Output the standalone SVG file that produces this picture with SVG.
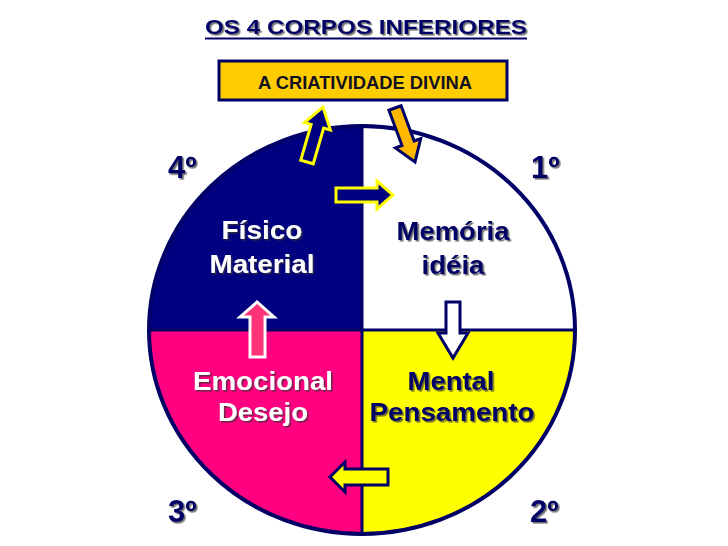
<svg xmlns="http://www.w3.org/2000/svg" width="728" height="546" viewBox="0 0 728 546">
<defs>
<style>
text{font-family:"Liberation Sans",Arial,sans-serif;font-weight:bold;}
.lbl{font-size:25px;text-anchor:middle;filter:url(#sh);}
.num{font-size:31px;fill:#000066;filter:url(#sh);}
.w{fill:#ffffff;}
.n{fill:#000066;}
.div{stroke:#000066;stroke-width:3;}
</style>
<filter id="sh" x="-10%" y="-20%" width="130%" height="150%">
<feDropShadow dx="1.6" dy="1.6" stdDeviation="0.4" flood-color="#333" flood-opacity="0.7"/>
</filter>
</defs>
<rect width="728" height="546" fill="#ffffff"/>

<g id="title">
<text x="205" y="34" font-size="20" fill="#000066" textLength="322" lengthAdjust="spacingAndGlyphs" filter="url(#sh)">OS 4 CORPOS INFERIORES</text>
<line x1="205" y1="38.5" x2="527" y2="38.5" stroke="#000066" stroke-width="2"/>
</g>

<g id="box">
<rect x="219" y="61" width="288" height="39" fill="#FFCC00" stroke="#000066" stroke-width="3"/>
<text x="365" y="89" font-size="18" fill="#111122" text-anchor="middle" textLength="214" lengthAdjust="spacingAndGlyphs">A CRIATIVIDADE DIVINA</text>
</g>

<g id="circle">
<path id="q4" d="M362,330 L362,126 A213,204 0 0 0 149,330 Z" fill="#000080"/>
<path id="q1" d="M362,330 L362,126 A213,204 0 0 1 575,330 Z" fill="#ffffff"/>
<path id="q2" d="M362,330 L575,330 A213,204 0 0 1 362,534 Z" fill="#FFFF00"/>
<path id="q3" d="M362,330 L362,534 A213,204 0 0 1 149,330 Z" fill="#FF0080"/>
<ellipse cx="362" cy="330" rx="213" ry="204" fill="none" stroke="#000066" stroke-width="4"/>
<line class="div" x1="362" y1="126" x2="362" y2="534"/>
<line class="div" x1="149" y1="330" x2="575" y2="330"/>
</g>

<g id="labels">
<text class="lbl w" x="262" y="239" textLength="81" lengthAdjust="spacingAndGlyphs">Físico</text>
<text class="lbl w" x="262" y="273" textLength="105" lengthAdjust="spacingAndGlyphs">Material</text>
<text class="lbl n" x="453" y="240" textLength="113" lengthAdjust="spacingAndGlyphs">Memória</text>
<text class="lbl n" x="453" y="274" textLength="63" lengthAdjust="spacingAndGlyphs">idéia</text>
<text class="lbl w" x="263" y="390" textLength="140" lengthAdjust="spacingAndGlyphs">Emocional</text>
<text class="lbl w" x="263" y="421" textLength="90" lengthAdjust="spacingAndGlyphs">Desejo</text>
<text class="lbl n" x="451" y="390" textLength="87" lengthAdjust="spacingAndGlyphs">Mental</text>
<text class="lbl n" x="452" y="421" textLength="165" lengthAdjust="spacingAndGlyphs">Pensamento</text>
</g>

<g id="numbers">
<text class="num" x="168" y="178">4º</text>
<text class="num" x="531" y="178">1º</text>
<text class="num" x="168" y="522">3º</text>
<text class="num" x="530" y="522">2º</text>
</g>

<g id="connectors">
<polygon transform="translate(315,134.5) rotate(16.2)" points="-6.5,28.6 -6.5,-8.6 -13.5,-8.6 0,-28.6 13.5,-8.6 6.5,-8.6 6.5,28.6" fill="#000080" stroke="#FFFF00" stroke-width="3" stroke-linejoin="miter"/>
<polygon transform="translate(405,135) rotate(-20.3)" points="-6.5,-28.8 6.5,-28.8 6.5,8.8 13.5,8.8 0,28.8 -13.5,8.8 -6.5,8.8" fill="#FFB700" stroke="#000066" stroke-width="3"/>
<polygon points="336,188 377,188 377,181 393,195 377,209 377,202 336,202" fill="#000080" stroke="#FFFF00" stroke-width="3"/>
<polygon points="446,302 460,302 460,333 468,333 453,358 438,333 446,333" fill="#ffffff" stroke="#000066" stroke-width="3"/>
<polygon points="250,357 265,357 265,317 274,317 257,302 240,317 250,317" fill="#FF3377" stroke="#ffffff" stroke-width="3"/>
<polygon points="388,469 345,469 345,462 330,477 345,492 345,485 388,485" fill="#FFFF00" stroke="#000066" stroke-width="3"/>
</g>
</svg>
